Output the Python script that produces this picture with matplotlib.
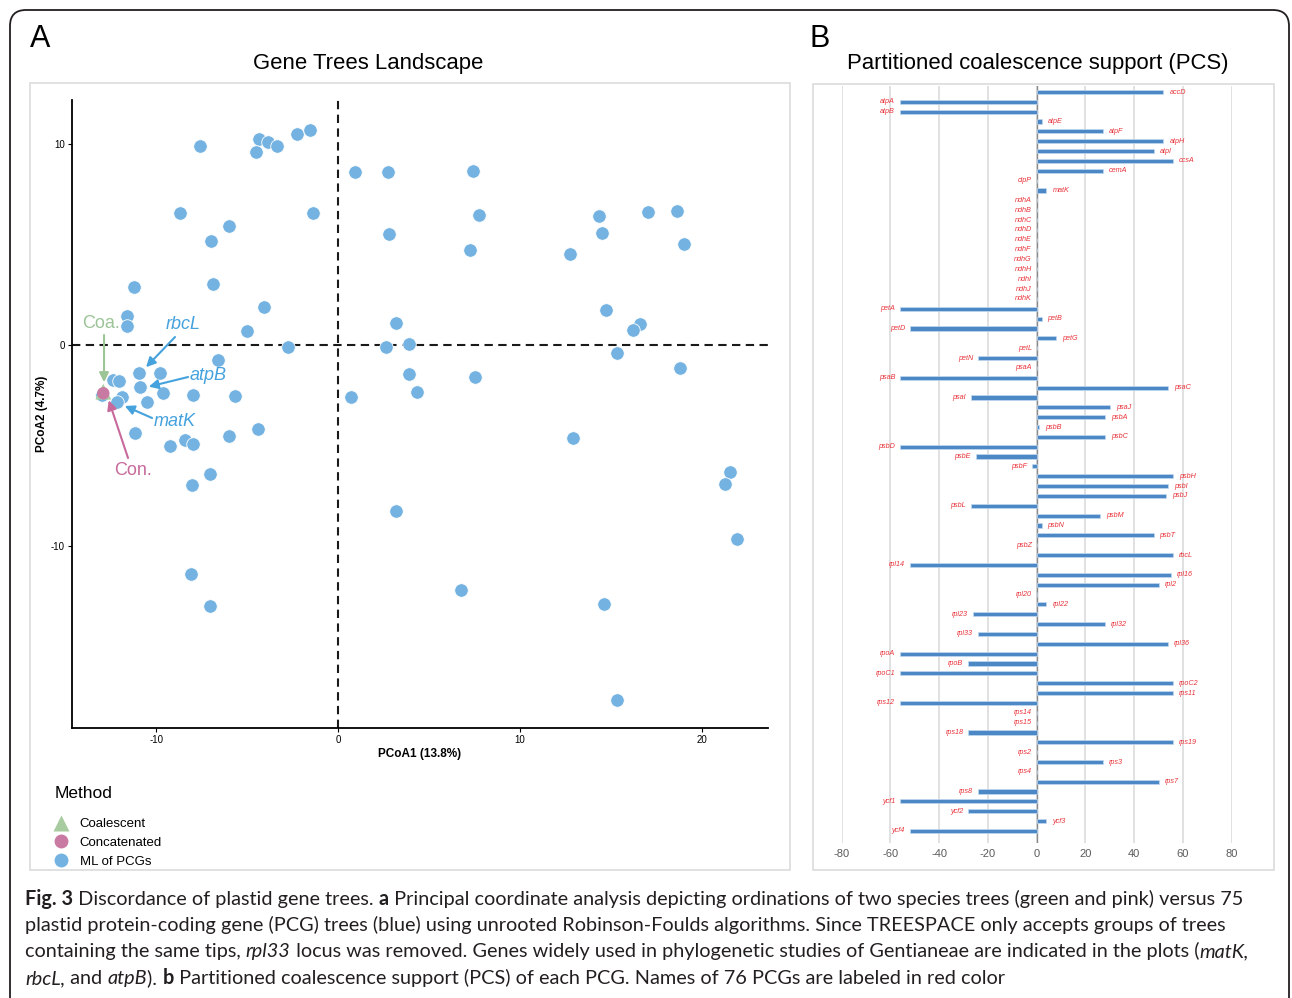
import matplotlib
matplotlib.use('Agg')
import matplotlib.pyplot as plt
from matplotlib.lines import Line2D
from matplotlib.patches import FancyBboxPatch, Rectangle
from matplotlib.transforms import IdentityTransform
from matplotlib.font_manager import FontProperties

plt.rcParams['font.family'] = ['Liberation Sans', 'DejaVu Sans']
plt.rcParams['axes.unicode_minus'] = False

# ---------------- data: panel A (PCoA of gene trees) ----------------
pcg_x = [-7.58, -4.34, -3.86, -3.35, -4.51, -2.25, -1.54, 0.95, 2.73, -8.68,
         -1.36, -6.01, -6.96, 2.82, -11.21, -6.85, -4.08, -11.58, -11.58, -4.98,
         3.19, -2.75, 2.64, 3.92, 7.42, 7.73, 7.24, 12.73, 14.34, 14.51,
         17.03, 18.63, 19.03, 14.74, 16.58, 16.21, 15.31, -6.59, -10.92, -9.76,
         -12.38, -12.03, -10.90, -9.63, -7.97, -5.64, -12.95, -11.88, -12.13, -10.51,
         -11.15, -4.38, -6.01, -8.42, -7.97, -9.25, -7.05, -8.02, 3.19, 0.71,
         3.92, 4.36, -8.08, -7.03, 18.79, 7.53, 12.90, 21.54, 21.28, 21.94,
         6.74, 14.62, 15.31]
pcg_y = [9.90, 10.23, 10.11, 9.90, 9.59, 10.48, 10.71, 8.62, 8.62, 6.57,
         6.55, 5.92, 5.19, 5.54, 2.89, 3.05, 1.91, 1.44, 0.95, 0.71,
         1.09, -0.11, -0.11, 0.03, 8.66, 6.47, 4.71, 4.51, 6.40, 5.56,
         6.60, 6.67, 5.02, 1.73, 1.04, 0.73, -0.41, -0.76, -1.38, -1.38,
         -1.74, -1.81, -2.09, -2.40, -2.49, -2.54, -2.49, -2.57, -2.85, -2.82,
         -4.36, -4.19, -4.54, -4.73, -4.93, -5.02, -6.42, -6.97, -8.26, -2.59,
         -1.44, -2.35, -11.41, -12.97, -1.16, -1.61, -4.63, -6.32, -6.92, -9.64,
         -12.17, -12.87, -17.65]
coa_x, coa_y = [-12.9], [-2.32]
con_x, con_y = [-12.9], [-2.40]

xticksA = [-10, 0, 10, 20]
yticksA = [-10, 0, 10]

# annotations: label, text position, arrow tail, arrow head, colour, italic
annots = [
    ("Coa.", (-13.02, 1.09), (-12.86, 0.50), (-12.86, -1.85), '#9cc497', False),
    ("rbcL", (-8.52, 1.00), (-8.96, 0.40), (-10.55, -1.10), '#45a2dd', True),
    ("atpB", (-7.14, -1.49), (-8.24, -1.59), (-10.40, -2.07), '#45a2dd', True),
    ("matK", (-8.96, -3.78), (-10.22, -3.63), (-11.72, -3.03), '#45a2dd', True),
    ("Con.", (-11.26, -6.22), (-11.54, -5.62), (-12.60, -2.75), '#c7699b', False),
]

# ---------------- data: panel B (PCS) ----------------
genes = ['accD', 'atpA', 'atpB', 'atpE', 'atpF', 'atpH', 'atpI', 'ccsA', 'cemA', 'clpP',
         'matK', 'ndhA', 'ndhB', 'ndhC', 'ndhD', 'ndhE', 'ndhF', 'ndhG', 'ndhH', 'ndhI',
         'ndhJ', 'ndhK', 'petA', 'petB', 'petD', 'petG', 'petL', 'petN', 'psaA', 'psaB',
         'psaC', 'psaI', 'psaJ', 'psbA', 'psbB', 'psbC', 'psbD', 'psbE', 'psbF', 'psbH',
         'psbI', 'psbJ', 'psbL', 'psbM', 'psbN', 'psbT', 'psbZ', 'rbcL', 'rpl14', 'rpl16',
         'rpl2', 'rpl20', 'rpl22', 'rpl23', 'rpl32', 'rpl33', 'rpl36', 'rpoA', 'rpoB', 'rpoC1',
         'rpoC2', 'rps11', 'rps12', 'rps14', 'rps15', 'rps18', 'rps19', 'rps2', 'rps3', 'rps4',
         'rps7', 'rps8', 'ycf1', 'ycf2', 'ycf3', 'ycf4']
pcs = [52, -56, -56, 2, 27, 52, 48, 56, 27, 0,
       4, 0, 0, 0, 0, 0, 0, 0, 0, 0,
       0, 0, -56, 2, -52, 8, 0, -24, 0, -56,
       54, -27, 30, 28, 1, 28, -56, -25, -2, 56,
       54, 53, -27, 26, 2, 48, 0, 56, -52, 55,
       50, 0, 4, -26, 28, -24, 54, -56, -28, -56,
       56, 56, -56, 0, 0, -28, 56, 0, 27, 0,
       50, -24, -56, -28, 4, -52]
xticksB = [-80, -60, -40, -20, 0, 20, 40, 60, 80]

legend_labels = ["Coalescent", "Concatenated", "ML of PCGs"]

caption_lines = [
    [("Fig. 3", 'bold', 'normal'), (" Discordance of plastid gene trees. ", 'normal', 'normal'),
     ("a", 'bold', 'normal'),
     (" Principal coordinate analysis depicting ordinations of two species trees (green and pink) versus 75", 'normal', 'normal')],
    [("plastid protein-coding gene (PCG) trees (blue) using unrooted Robinson-Foulds algorithms. Since TREESPACE only accepts groups of trees", 'normal', 'normal')],
    [("containing the same tips, ", 'normal', 'normal'), ("rpl33", 'normal', 'italic'),
     (" locus was removed. Genes widely used in phylogenetic studies of Gentianeae are indicated in the plots (", 'normal', 'normal'),
     ("matK,", 'normal', 'italic')],
    [("rbcL,", 'normal', 'italic'), (" and ", 'normal', 'normal'), ("atpB", 'normal', 'italic'),
     ("). ", 'normal', 'normal'), ("b", 'bold', 'normal'),
     (" Partitioned coalescence support (PCS) of each PCG. Names of 76 PCGs are labeled in red color", 'normal', 'normal')],
]

assert len(genes) == len(pcs) == 76
assert len(pcg_x) == len(pcg_y)

# ---------------- figure ----------------
W, H = 1292, 998
fig = plt.figure(figsize=(W / 100, H / 100), dpi=100)


def fx(px):
    return px / W


def fy(py):
    return 1 - py / H


def ax_rect(l, t, r, b):
    return [fx(l), fy(b), fx(r) - fx(l), fy(t) - fy(b)]


# outer rounded frame
frame = FancyBboxPatch((10, H - 1040), 1279, 1030,
                       boxstyle='round,pad=0,rounding_size=16',
                       transform=IdentityTransform(), fill=False,
                       edgecolor='#231f20', lw=1.3)
fig.patches.append(frame)

# panel borders
for (l, t, r, b) in [(30, 83, 790, 870), (813, 84, 1274, 870)]:
    fig.patches.append(Rectangle((fx(l), fy(b)), fx(r) - fx(l), fy(t) - fy(b),
                                 transform=fig.transFigure, fill=False,
                                 edgecolor='#dcdcdc', lw=1.2))

fig.text(fx(30), fy(39), "A", fontsize=22, va='center', ha='left')
fig.text(fx(809), fy(39), "B", fontsize=22, va='center', ha='left')
fig.text(fx(368), fy(63), "Gene Trees Landscape", fontsize=15.9, va='center', ha='center')
fig.text(fx(1038), fy(63), "Partitioned coalescence support (PCS)", fontsize=15.9,
         va='center', ha='center')

# ---------------- panel A ----------------
axA = fig.add_axes(ax_rect(72, 100, 768, 728))
axA.set_xlim(-14.62, 23.63)
axA.set_ylim(-19.05, 12.19)
for s in ['top', 'right']:
    axA.spines[s].set_visible(False)
for s in ['left', 'bottom']:
    axA.spines[s].set_linewidth(1.3)
axA.axhline(0, color='#1a1a1a', lw=1.5, dashes=(4, 2.6), zorder=1)
axA.axvline(0, color='#1a1a1a', lw=1.5, dashes=(4, 2.6), zorder=1)
axA.scatter(pcg_x, pcg_y, s=95, c='#74b3e1', edgecolors='white', linewidths=0.6, zorder=3)
axA.scatter(coa_x, coa_y, s=130, marker='^', c='#a8cc9f', edgecolors='none', zorder=4)
axA.scatter(con_x, con_y, s=80, c='#c97aa3', edgecolors='none', zorder=5)
axA.set_xticks(xticksA)
axA.set_yticks(yticksA)
axA.tick_params(labelsize=7, length=3, width=0.8, pad=2)
axA.set_xlabel("PCoA1 (13.8%)", fontsize=8.5, fontweight='bold', labelpad=2)
axA.set_ylabel("PCoA2 (4.7%)", fontsize=8.5, fontweight='bold', labelpad=2)

for lab, tpos, tail, head, col, ital in annots:
    axA.text(tpos[0], tpos[1], lab, fontsize=13, color=col, ha='center', va='center',
             fontstyle='italic' if ital else 'normal', zorder=6)
    axA.annotate("", xy=head, xytext=tail,
                 arrowprops=dict(arrowstyle='-|>', color=col, lw=1.5,
                                 mutation_scale=14, shrinkA=0, shrinkB=0), zorder=6)

# legend
fig.text(fx(55), fy(793), "Method", fontsize=12.5, va='center', ha='left')
handles = [
    Line2D([], [], marker='^', ls='', markersize=11, color='#a8cc9f', markeredgecolor='none'),
    Line2D([], [], marker='o', ls='', markersize=10, color='#c97aa3', markeredgecolor='none'),
    Line2D([], [], marker='o', ls='', markersize=10, color='#74b3e1', markeredgecolor='none'),
]
leg = fig.legend(handles, legend_labels, loc='upper left',
                 bbox_to_anchor=(fx(52), fy(818)), frameon=False,
                 fontsize=9.5, handletextpad=0.7, borderpad=0,
                 labelspacing=0.5, handlelength=1.4, borderaxespad=0)

# ---------------- panel B ----------------
n = len(genes)
ypos = list(range(n))
axB = fig.add_axes(ax_rect(841.7, 86, 1231.7, 843))
axB.set_xlim(-80, 80)
axB.set_ylim(n - 1 + 1.22, -0.61)
for s in axB.spines.values():
    s.set_visible(False)
axB.set_xticks(xticksB)
axB.set_yticks([])
axB.grid(axis='x', color='#d9d9d9', lw=1.1)
axB.set_axisbelow(True)
axB.tick_params(axis='x', length=0, labelsize=8, colors='#5a5a5a', pad=4)
axB.axvline(0, color='#8a8a8a', lw=1.0, zorder=2)
axB.barh(ypos, pcs, height=0.42, color='#4d88c6', edgecolor='#c3d9ef', lw=0.5, zorder=3)
for yi, g, v in zip(ypos, genes, pcs):
    if v > 0:
        axB.annotate(g, (v, yi), xytext=(4.3, 0), textcoords='offset points',
                     ha='left', va='center', fontsize=5.2, fontstyle='italic',
                     color='#e8333a', annotation_clip=False)
    else:
        axB.annotate(g, (v, yi), xytext=(-3.6, 0), textcoords='offset points',
                     ha='right', va='center', fontsize=5.2, fontstyle='italic',
                     color='#e8333a', annotation_clip=False)

# ---------------- caption ----------------
cap_font = ['Lato', 'DejaVu Sans']
renderer = fig.canvas.get_renderer()


def seg_width(txt, size, weight, style):
    prop = FontProperties(family=cap_font, size=size, weight=weight, style=style)
    w1, _, _ = renderer.get_text_width_height_descent('|' + txt + '|', prop, ismath=False)
    w0, _, _ = renderer.get_text_width_height_descent('||', prop, ismath=False)
    return w1 - w0


ref = 12.0
w_line1 = sum(seg_width(t, ref, wt, st) for t, wt, st in caption_lines[0])
cap_size = ref * (1213.0 / w_line1)

baselines = [905, 931, 957, 984]
for segs, yb in zip(caption_lines, baselines):
    x = 25.0
    for t, wt, st in segs:
        fig.text(fx(x), fy(yb), t, fontsize=cap_size, fontweight=wt, fontstyle=st,
                 family=cap_font, ha='left', va='baseline', color='#231f20')
        x += seg_width(t, cap_size, wt, st)

fig.savefig('out.png', dpi=100)
